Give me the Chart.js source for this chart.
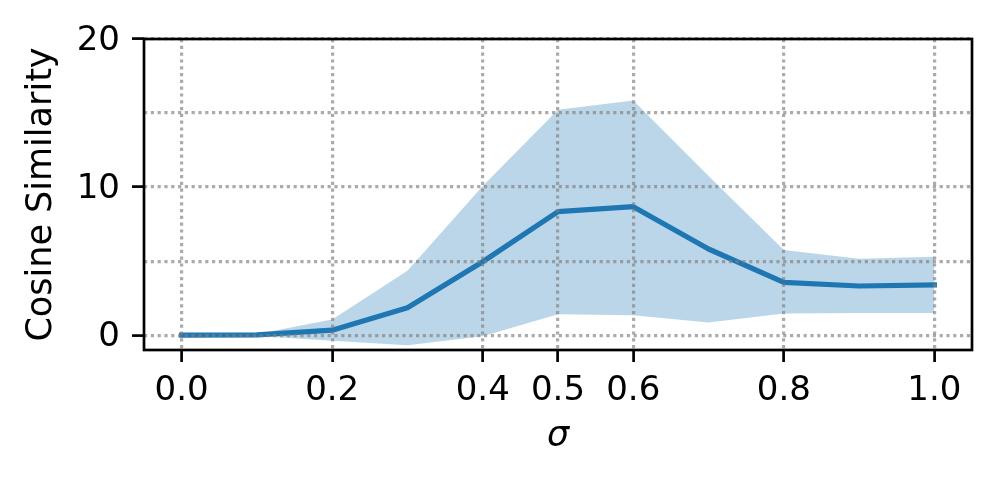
<!DOCTYPE html>
<html>
<head>
<meta charset="utf-8">
<script src="https://cdn.jsdelivr.net/npm/chart.js@4/dist/chart.umd.min.js"></script>
<style>
  html, body { margin: 0; padding: 0; background: #ffffff; }
  #wrap { width: 998px; height: 484px; }
</style>
</head>
<body>
<div id="wrap"><canvas id="c" width="998" height="484"></canvas></div>
<script>
// ---- data ----
const sigmaValues = [0.0, 0.1, 0.2, 0.3, 0.4, 0.5, 0.6, 0.7, 0.8, 0.9, 1.0];
const meanSimilarity = [0.0, 0.02, 0.34, 1.85, 4.96, 8.34, 8.68, 5.82, 3.57, 3.32, 3.40];
const upperBand = [0.0, 0.08, 1.06, 4.35, 10.08, 15.22, 15.85, 10.75, 5.75, 5.16, 5.30];
const lowerBand = [0.0, -0.05, -0.38, -0.68, -0.07, 1.42, 1.35, 0.86, 1.47, 1.49, 1.49];
const xTickValues = [0.0, 0.2, 0.4, 0.5, 0.6, 0.8, 1.0];
const yTickValues = [0, 5, 10, 15, 20];
const yLabelledTicks = [0, 10, 20];
const xAxisTitle = 'σ';
const yAxisTitle = 'Cosine Similarity';

const toPoints = (ys) => sigmaValues.map((x, i) => ({ x: x, y: ys[i] }));

const FONT = 'DejaVu Sans';
const FS = 34;
const FT = 35;
const BLUE = '#1f77b4';
const GRID = 'rgba(128,128,128,0.66)';
const LW = 2.7;
const GLW = 3.2;
const DOTS = [3.2, 3.6];

const frame = {
  id: 'frame',
  afterDraw(chart) {
    const a = chart.chartArea;
    const ctx = chart.ctx;
    ctx.save();
    ctx.strokeStyle = '#000';
    ctx.lineWidth = LW;
    ctx.lineJoin = 'miter';
    ctx.setLineDash([]);
    ctx.strokeRect(a.left, a.top, a.right - a.left, a.bottom - a.top);
    ctx.restore();
  }
};

new Chart(document.getElementById('c'), {
  type: 'line',
  data: {
    datasets: [
      {
        data: toPoints(upperBand),
        borderWidth: 0,
        borderColor: 'rgba(0,0,0,0)',
        backgroundColor: 'rgba(31,119,180,0.3)',
        pointRadius: 0,
        fill: '+1',
        tension: 0
      },
      {
        data: toPoints(lowerBand),
        borderWidth: 0,
        borderColor: 'rgba(0,0,0,0)',
        pointRadius: 0,
        fill: false,
        tension: 0
      },
      {
        data: toPoints(meanSimilarity),
        borderColor: BLUE,
        borderWidth: 5.2,
        borderCapStyle: 'square',
        borderJoinStyle: 'round',
        pointRadius: 0,
        fill: false,
        tension: 0
      }
    ]
  },
  options: {
    responsive: false,
    animation: false,
    events: [],
    layout: { padding: { left: 0, top: 39, right: 26, bottom: 0 } },
    plugins: {
      legend: { display: false },
      tooltip: { enabled: false }
    },
    scales: {
      x: {
        type: 'linear',
        min: -0.05,
        max: 1.05,
        afterBuildTicks: (s) => { s.ticks = xTickValues.map(v => ({ value: v })); },
        afterFit: (s) => { s.height = 134; },
        border: { display: false, dash: DOTS },
        grid: {
          z: 1,
          color: GRID,
          lineWidth: GLW,
          tickColor: '#000',
          tickWidth: LW,
          tickLength: 12,
          tickBorderDash: []
        },
        ticks: {
          autoSkip: false,
          maxRotation: 0,
          padding: 9,
          color: '#000',
          font: { family: FONT, size: FS },
          callback: (v) => Number(v).toFixed(1)
        },
        title: {
          display: true,
          text: xAxisTitle,
          color: '#000',
          font: { family: FONT, size: FT, style: 'italic' },
          padding: { top: 0, bottom: 26 }
        }
      },
      y: {
        type: 'linear',
        min: -1,
        max: 20,
        afterBuildTicks: (s) => { s.ticks = yTickValues.map(v => ({ value: v })); },
        afterFit: (s) => { s.width = 144; },
        border: { display: false, dash: DOTS },
        grid: {
          z: 1,
          color: GRID,
          lineWidth: GLW,
          tickColor: (ctx) => (ctx.tick && yLabelledTicks.includes(ctx.tick.value)) ? '#000' : 'rgba(0,0,0,0)',
          tickWidth: LW,
          tickLength: 12,
          tickBorderDash: []
        },
        ticks: {
          padding: 12,
          labelOffset: 2,
          color: '#000',
          font: { family: FONT, size: FS },
          callback: (v) => yLabelledTicks.includes(v) ? String(v) : ''
        },
        title: {
          display: true,
          text: yAxisTitle,
          color: '#000',
          font: { family: FONT, size: FT },
          padding: { top: 21, bottom: 0 }
        }
      }
    }
  },
  plugins: [frame]
});
</script>
</body>
</html>
